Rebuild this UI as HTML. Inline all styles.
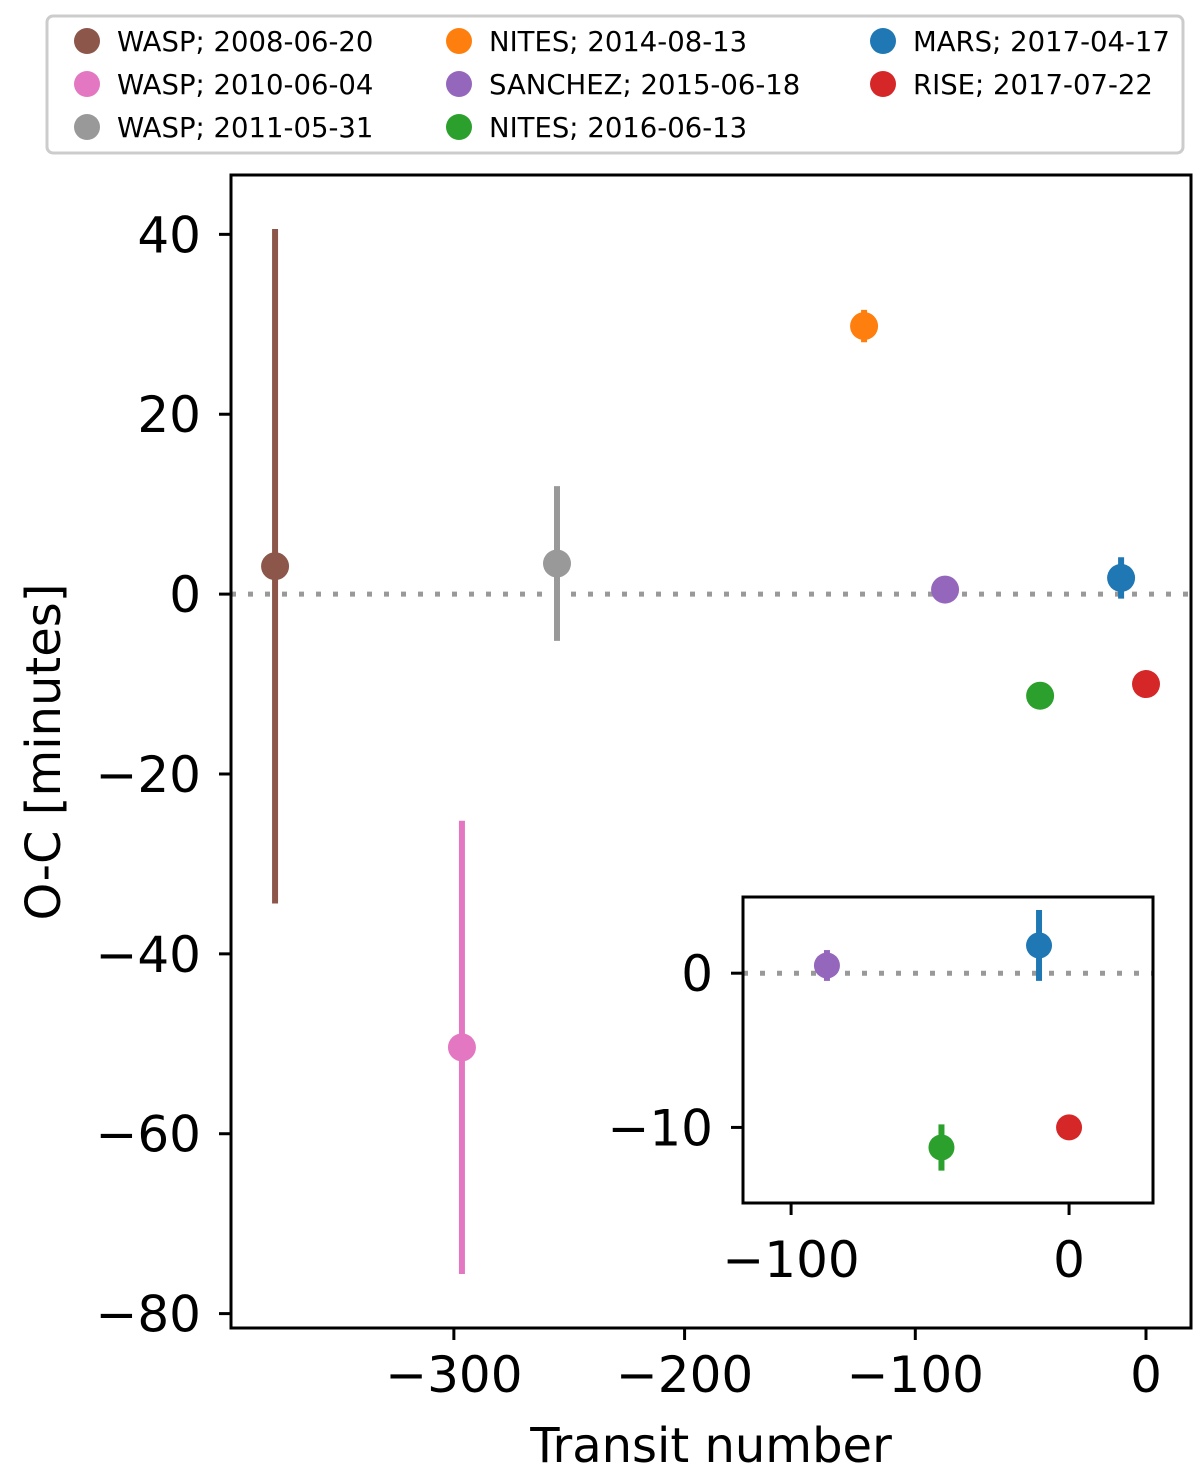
<!DOCTYPE html>
<html><head><meta charset="utf-8"><style>
body{margin:0;background:#fff;}
svg{display:block;font-family:"DejaVu Sans","Liberation Sans",sans-serif;}
</style></head><body>
<svg id="chart" width="1200" height="1483" viewBox="0 0 1200 1483"></svg>
<script>
const labels=["WASP; 2008-06-20","WASP; 2010-06-04","WASP; 2011-05-31","NITES; 2014-08-13","SANCHEZ; 2015-06-18","NITES; 2016-06-13","MARS; 2017-04-17","RISE; 2017-07-22"];
const colors=["#8c564b","#e377c2","#999999","#ff7f0e","#9467bd","#2ca02c","#1f77b4","#d62728"];
const epochs=[-377.5,-296.5,-255.3,-122.2,-87.1,-45.9,-10.8,0];
const oc=[3.1,-50.4,3.4,29.8,0.5,-11.3,1.8,-10.0];
const errs=[37.5,25.2,8.6,1.8,1.0,1.5,2.3,0.3];
const xTicks=[-300,-200,-100,0];
const yTicks=[40,20,0,-20,-40,-60,-80];
const inXTicks=[-100,0];
const inYTicks=[0,-10];
const inSeries=[4,5,6,7];

const svg=document.getElementById('chart');
const NS="http://www.w3.org/2000/svg";
function mk(tag,attrs,parent){const e=document.createElementNS(NS,tag);for(const k in attrs)e.setAttribute(k,attrs[k]);(parent||svg).appendChild(e);return e;}
function lin(d0,d1,r0,r1){return v=>r0+(v-d0)*(r1-r0)/(d1-d0);}

const M={l:231,r:1191,t:175,b:1328};
const X=lin(-396.6,19.5,M.l,M.r), Y=lin(46.6,-81.6,M.t,M.b);
let g=mk('g',{});
let zl=mk('line',{x1:M.l,x2:M.r,y1:Y(0),y2:Y(0),stroke:'#999',"stroke-width":5,"stroke-dasharray":"5 12"},g);

epochs.forEach((e,i)=>{
 const s=mk('g',{},g);
 
 
 mk('line',{x1:X(e),x2:X(e),y1:Y(oc[i]+errs[i]),y2:Y(oc[i]-errs[i]),stroke:colors[i],"stroke-width":6},s);
 mk('circle',{cx:X(e),cy:Y(oc[i]),r:14,fill:colors[i]},s);
});
mk('rect',{x:M.l,y:M.t,width:M.r-M.l,height:M.b-M.t,fill:'none',stroke:'#000',"stroke-width":3},g);
xTicks.forEach(v=>{
 mk('line',{x1:X(v),x2:X(v),y1:M.b,y2:M.b+12,stroke:'#000',"stroke-width":3},g);
 const t=mk('text',{x:X(v),y:M.b+64,"text-anchor":"middle","font-size":50},g);t.textContent=v<0?'\u2212'+(-v):v;
 
});
yTicks.forEach(v=>{
 mk('line',{x1:M.l-12,x2:M.l,y1:Y(v),y2:Y(v),stroke:'#000',"stroke-width":3},g);
 const t=mk('text',{x:M.l-30,y:Y(v)+18,"text-anchor":"end","font-size":50},g);t.textContent=v<0?'\u2212'+(-v):v;
 
});
let xt=mk('text',{x:711,y:1462,"text-anchor":"middle","font-size":48});xt.textContent='Transit number';

let yt=mk('text',{x:0,y:0,"text-anchor":"middle","font-size":48,transform:'translate(60,752) rotate(-90)'});yt.textContent='O-C [minutes]';


const I={l:743,r:1153,t:897,b:1203};
const IX=lin(-117.3,30.2,I.l,I.r), IY=lin(4.94,-14.9,I.t,I.b);
let ig=mk('g',{});
mk('rect',{x:I.l,y:I.t,width:I.r-I.l,height:I.b-I.t,fill:'#fff'},ig);
mk('line',{x1:I.l,x2:I.r,y1:IY(0),y2:IY(0),stroke:'#999',"stroke-width":5,"stroke-dasharray":"5 12"},ig);
inSeries.forEach(i=>{
 const s=mk('g',{},ig);
 
 
 mk('line',{x1:IX(epochs[i]),x2:IX(epochs[i]),y1:IY(oc[i]+errs[i]),y2:IY(oc[i]-errs[i]),stroke:colors[i],"stroke-width":6},s);
 mk('circle',{cx:IX(epochs[i]),cy:IY(oc[i]),r:13,fill:colors[i]},s);
});
mk('rect',{x:I.l,y:I.t,width:I.r-I.l,height:I.b-I.t,fill:'none',stroke:'#000',"stroke-width":3},ig);
inXTicks.forEach(v=>{
 mk('line',{x1:IX(v),x2:IX(v),y1:I.b,y2:I.b+12,stroke:'#000',"stroke-width":3},ig);
 const t=mk('text',{x:IX(v),y:I.b+74,"text-anchor":"middle","font-size":50},ig);t.textContent=v<0?'\u2212'+(-v):v;
});
inYTicks.forEach(v=>{
 mk('line',{x1:I.l-12,x2:I.l,y1:IY(v),y2:IY(v),stroke:'#000',"stroke-width":3},ig);
 const t=mk('text',{x:I.l-30,y:IY(v)+18,"text-anchor":"end","font-size":50},ig);t.textContent=v<0?'\u2212'+(-v):v;
});

let lg=mk('g',{});
mk('rect',{x:47,y:16,width:1136,height:137,rx:6,fill:'#fff',stroke:'#ccc',"stroke-width":3},lg);
const colX=[87,459,883],rowY=[41,84,127];
labels.forEach((l,i)=>{
 const c=Math.floor(i/3),r=i%3;
 const e=mk('g',{},lg);
 
 
 mk('circle',{cx:colX[c],cy:rowY[r],r:13,fill:colors[i]},e);
 const t=mk('text',{x:colX[c]+30,y:rowY[r]+10,"font-size":27.5},e);t.textContent=l;
});
</script>
</body></html>
